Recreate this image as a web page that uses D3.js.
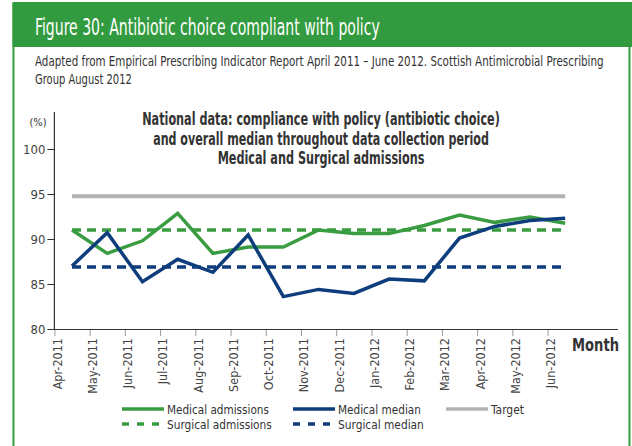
<!DOCTYPE html>
<html lang="en">
<head>
<meta charset="utf-8">
<title>Figure 30</title>
<script src="https://d3js.org/d3.v7.min.js"></script>
<style>
  body { margin:0; background:#fff; }
  svg text { font-family: "Liberation Sans Narrow", "DejaVu Sans Condensed", "Roboto", sans-serif; fill:#333; }
</style>
</head>
<body>
<svg id="chart" width="632" height="446"></svg>
<script>
// data
var months = ["Apr-2011","May-2011","Jun-2011","Jul-2011","Aug-2011","Sep-2011","Oct-2011","Nov-2011",
              "Dec-2011","Jan-2012","Feb-2012","Mar-2012","Apr-2012","May-2012","Jun-2012"];
var medicalAdmissions = [91.0,88.4,89.8,92.85,88.4,89.1,89.1,91.0,90.6,90.6,91.5,92.65,91.85,92.45,91.75];
var medicalMedian     = [87.0,90.7,85.25,87.75,86.3,90.45,83.6,84.4,83.95,85.55,85.35,90.1,91.4,92.05,92.3];
var targetValue = 94.75;
var surgicalAdmissions = 91.0;
var surgicalMedian = 86.9;
var yTicks = [80,85,90,95,100];

var green = "#3a9c41", blue = "#0e3d7c", grey = "#b2b2b2";

var svg = d3.select("#chart");

// squeeze a text to a given width (the fonts here are wider than the original condensed face)
function squeeze(t, x, y, w, anchor){
  var n = t.node().getComputedTextLength();
  var k = Math.min(1, w / n);
  t.attr("x",0).attr("y",0).attr("text-anchor",anchor || "start")
   .attr("transform","translate(" + x + "," + y + ") scale(" + k + ",1)");
}

// frame + header band
svg.append("rect").attr("x",13.5).attr("y",3).attr("width",640).attr("height",460)
   .attr("fill","none").attr("stroke","#339b3f").attr("stroke-width",2);
svg.append("rect").attr("x",12.5).attr("y",3).attr("width",620).attr("height",44).attr("fill","#339b3f");
svg.append("line").attr("x1",629.5).attr("x2",629.5).attr("y1",47).attr("y2",446)
   .attr("stroke","#339b3f").attr("stroke-width",2);

squeeze(svg.append("text").attr("font-size",23).style("fill","#fff")
   .text("Figure 30: Antibiotic choice compliant with policy"), 35, 35, 345);
squeeze(svg.append("text").attr("font-size",14)
   .text("Adapted from Empirical Prescribing Indicator Report April 2011 \u2013 June 2012. Scottish Antimicrobial Prescribing"), 35, 65.5, 569);
squeeze(svg.append("text").attr("font-size",14).text("Group August 2012"), 35, 84, 97);

// chart title
var titleLines = [["National data: compliance with policy (antibiotic choice)",358],
                  ["and overall median throughout data collection period",336],
                  ["Medical and Surgical admissions",207]];
titleLines.forEach(function(d,i){
  var t = svg.append("text").attr("font-size",17).attr("font-weight","bold").text(d[0]);
  squeeze(t, 321, 125 + i*19.5, d[1], "middle");
});

// scales
var y = d3.scaleLinear().domain([80,100]).range([329,149]);
var xTick = d3.scalePoint().domain(months).range([54.4,547.6]);
var x = d3.scalePoint().domain(months).range([72,565.2]);

// y axis
var yAxis = svg.append("g").attr("transform","translate(54.4,0)")
   .call(d3.axisLeft(y).tickValues(yTicks).tickSize(7).tickPadding(2));
yAxis.select(".domain").remove();
yAxis.selectAll("line").attr("stroke","#333");
yAxis.selectAll("text").attr("font-size",13).style("fill","#444");
svg.append("line").attr("x1",54.4).attr("x2",54.4).attr("y1",112).attr("y2",329.5)
   .attr("stroke","#333").attr("stroke-width",1.2);
svg.append("text").attr("x",38).attr("y",126).attr("text-anchor","middle")
   .attr("font-size",11).text("(%)");

// x axis
var xAxis = svg.append("g").attr("transform","translate(0,329)")
   .call(d3.axisBottom(xTick).tickSize(7).tickPadding(0));
xAxis.select(".domain").remove();
xAxis.selectAll("line").attr("stroke","#999");
xAxis.selectAll("text")
   .attr("font-size",12.5).style("fill","#444")
   .attr("text-anchor","end")
   .attr("transform","translate(2.5,9) rotate(-90)")
   .attr("x",0).attr("y",0).attr("dy","0.35em");
svg.append("line").attr("x1",54).attr("x2",618).attr("y1",329.5).attr("y2",329.5)
   .attr("stroke","#333").attr("stroke-width",1.2);
squeeze(svg.append("text").attr("font-size",17).attr("font-weight","bold").text("Month"), 572, 351, 47);

// lines
var line = d3.line().x(function(d,i){ return x(months[i]); }).y(function(d){ return y(d); });
function flat(v){ return months.map(function(){ return v; }); }

svg.append("path").datum(flat(targetValue)).attr("d",line)
   .attr("fill","none").attr("stroke",grey).attr("stroke-width",4);
svg.append("path").datum(flat(surgicalAdmissions)).attr("d",line)
   .attr("fill","none").attr("stroke",green).attr("stroke-width",3.5).attr("stroke-dasharray","9,6");
svg.append("path").datum(flat(surgicalMedian)).attr("d",line)
   .attr("fill","none").attr("stroke",blue).attr("stroke-width",3.5).attr("stroke-dasharray","9,6");
svg.append("path").datum(medicalAdmissions).attr("d",line)
   .attr("fill","none").attr("stroke",green).attr("stroke-width",3.5).attr("stroke-linejoin","miter");
svg.append("path").datum(medicalMedian).attr("d",line)
   .attr("fill","none").attr("stroke",blue).attr("stroke-width",3.5).attr("stroke-linejoin","miter");

// legend
var legend = [
  {label:"Medical admissions", color:green, dash:null, x:122, y:409, w:102},
  {label:"Medical median", color:blue, dash:null, x:293, y:409, w:83},
  {label:"Target", color:grey, dash:null, x:446, y:409, w:33},
  {label:"Surgical admissions", color:green, dash:"7,8", x:122, y:424, w:105},
  {label:"Surgical median", color:blue, dash:"7,8", x:293, y:424, w:86}
];
legend.forEach(function(d){
  svg.append("line")
     .attr("x1",d.x).attr("x2",d.x+42).attr("y1",d.y).attr("y2",d.y)
     .attr("stroke",d.color).attr("stroke-width",3.5)
     .attr("stroke-dasharray",d.dash);
  squeeze(svg.append("text").attr("font-size",13).text(d.label), d.x+45, d.y+4.5, d.w);
});
</script>
</body>
</html>
